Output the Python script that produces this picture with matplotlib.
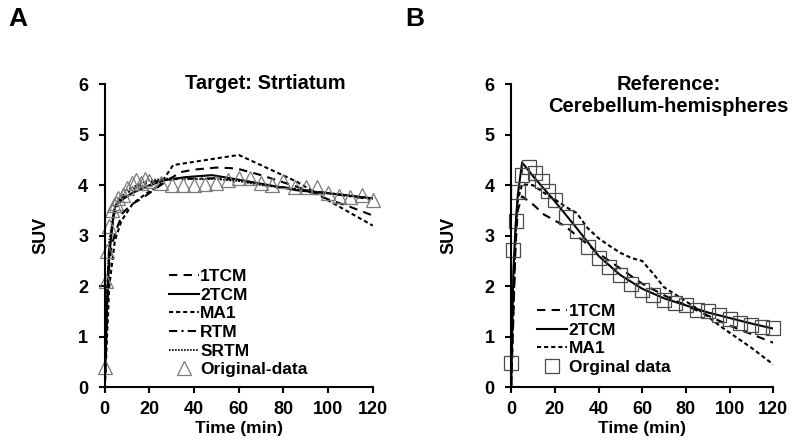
import matplotlib
matplotlib.use("Agg")
import matplotlib.pyplot as plt

plt.rcParams['font.family'] = ['Liberation Sans', 'DejaVu Sans']
plt.rcParams['font.weight'] = 'bold'

# --- Panel A: target (striatum) ---
t_orig_a = [0, 0.5, 1, 2, 3, 4, 5, 6, 8, 10, 12, 14, 16, 18, 20, 25, 30, 35,
            40, 45, 50, 55, 60, 65, 70, 75, 80, 85, 90, 95, 100, 105, 110, 115, 120]
suv_orig_a = [0.4, 2.1, 2.7, 3.2, 3.5, 3.6, 3.65, 3.75, 3.8, 3.95, 4.05, 4.1, 4.05,
              4.12, 4.08, 4.05, 4.0, 4.0, 4.0, 4.02, 4.05, 4.1, 4.14, 4.14, 4.04,
              4.0, 4.08, 3.96, 3.96, 3.96, 3.84, 3.78, 3.76, 3.8, 3.7]

t_1tcm_a = [0, 1, 2, 3, 5, 8, 12, 17, 25, 30, 34, 40, 50, 56, 60, 70, 86, 100, 110, 120]
suv_1tcm_a = [0, 1.5, 2.4, 2.8, 3.1, 3.45, 3.62, 3.75, 4.0, 4.15, 4.26, 4.31, 4.35,
              4.34, 4.32, 4.2, 3.97, 3.72, 3.57, 3.4]

t_2tcm_a = [0, 1, 2, 4, 5, 8, 12, 20, 27, 36, 48, 56, 70, 86, 100, 110, 120]
suv_2tcm_a = [0, 1.6, 2.6, 3.45, 3.62, 3.72, 3.84, 4.0, 4.1, 4.16, 4.2, 4.14, 4.03,
              3.9, 3.84, 3.79, 3.74]

t_ma1_a = [0, 1, 2, 4.5, 7.5, 12.6, 18.7, 24.6, 30.6, 60, 86, 100, 120]
suv_ma1_a = [0, 1.0, 2.0, 2.9, 3.3, 3.64, 3.84, 4.0, 4.4, 4.6, 4.07, 3.7, 3.2]

t_rtm_a = [0, 1, 2, 4, 6, 10, 15, 20, 30, 40, 50, 60, 70, 80, 90, 100, 110, 120]
suv_rtm_a = [0, 1.8, 2.8, 3.4, 3.65, 3.85, 3.98, 4.06, 4.12, 4.13, 4.14, 4.1, 4.02,
             3.96, 3.9, 3.84, 3.78, 3.72]

t_srtm_a = [0, 1, 2, 4, 6, 10, 15, 20, 30, 40, 50, 60, 70, 80, 90, 100, 110, 120]
suv_srtm_a = [0, 2.0, 2.9, 3.5, 3.7, 3.9, 4.02, 4.1, 4.14, 4.12, 4.12, 4.08, 4.0,
              3.95, 3.9, 3.85, 3.8, 3.74]

# --- Panel B: reference (cerebellum hemispheres) ---
t_orig_b = [0, 1, 2, 3, 5, 8, 11, 14, 17, 20, 25, 30, 35, 40, 45, 50, 55, 60,
            65, 70, 75, 80, 85, 90, 95, 100, 105, 110, 115, 120]
suv_orig_b = [0.47, 2.71, 3.3, 3.86, 4.2, 4.36, 4.24, 4.08, 3.88, 3.7, 3.37, 3.1,
              2.78, 2.55, 2.38, 2.22, 2.05, 1.92, 1.82, 1.72, 1.66, 1.62, 1.53,
              1.5, 1.43, 1.35, 1.28, 1.24, 1.2, 1.18]

t_1tcm_b = [0, 1, 2, 3, 5, 10, 15, 20, 25, 30, 40, 50, 60, 70, 80, 90, 100, 110, 120]
suv_1tcm_b = [0, 1.4, 2.8, 3.5, 3.78, 3.62, 3.42, 3.3, 3.18, 3.0, 2.65, 2.35, 2.05,
              1.82, 1.62, 1.42, 1.22, 1.05, 0.88]

t_2tcm_b = [0, 0.5, 1, 2, 3, 5, 10, 20, 30, 40, 50, 60, 70, 80, 90, 100, 110, 120]
suv_2tcm_b = [0, 1.2, 2.3, 3.2, 3.8, 4.45, 4.18, 3.68, 3.15, 2.6, 2.22, 1.95, 1.76,
              1.62, 1.48, 1.37, 1.26, 1.16]

t_ma1_b = [0, 1, 2, 3, 5, 10, 15, 20, 25, 30, 35, 40, 45, 50, 55, 60, 65, 70, 80,
           85, 90, 96, 100, 110, 120]
suv_ma1_b = [0, 1.5, 3.0, 3.7, 4.02, 4.0, 3.85, 3.72, 3.57, 3.45, 3.15, 2.95, 2.8,
             2.66, 2.56, 2.5, 2.25, 1.98, 1.7, 1.56, 1.4, 1.2, 1.08, 0.78, 0.45]

LW = 1.5
DASH_1TCM = (4, 3)
DASH_MA1 = (2, 1.4)
DASH_RTM = (4, 2, 1, 2)
DASH_SRTM = (1, 0.8)
LEG = dict(loc="upper left", frameon=False, handlelength=1.7, handletextpad=0.1,
           labelspacing=0.2, borderpad=0, borderaxespad=0,
           prop={"weight": "bold", "size": 12.5})


def style_axes(ax, title, ty):
    ax.set_xlim(0, 120)
    ax.set_ylim(0, 6)
    ax.set_xticks(range(0, 121, 20))
    ax.set_yticks(range(0, 7))
    for s in ["top", "right"]:
        ax.spines[s].set_visible(False)
    for s in ["left", "bottom"]:
        ax.spines[s].set_linewidth(1.5)
    ax.tick_params(axis="both", direction="out", length=4, width=1.5, labelsize=13)
    ax.tick_params(axis="y", pad=8)
    ax.tick_params(axis="x", pad=6)
    for lab in ax.get_xticklabels() + ax.get_yticklabels():
        lab.set_fontweight("bold")
    ax.set_xlabel("Time (min)", fontsize=12.5, fontweight="bold")
    ax.set_ylabel("SUV", fontsize=13, fontweight="bold")
    ax.xaxis.set_label_coords(0.5, -0.112)
    ax.yaxis.set_label_coords(-0.205, 0.5)
    ax.text(0.6, ty, title, transform=ax.transAxes, ha="center", va="top",
            fontsize=14.5, fontweight="bold", linespacing=1.2)


fig = plt.figure(figsize=(8, 4.46), dpi=100)
ax1 = fig.add_axes([0.131, 0.132, 0.335, 0.679])
ax2 = fig.add_axes([0.639, 0.132, 0.3275, 0.679])

# A
ax1.plot(t_1tcm_a, suv_1tcm_a, color="black", lw=LW, dashes=DASH_1TCM, label="1TCM")
ax1.plot(t_2tcm_a, suv_2tcm_a, color="black", lw=LW, label="2TCM")
ax1.plot(t_ma1_a, suv_ma1_a, color="black", lw=LW, dashes=DASH_MA1, label="MA1")
ax1.plot(t_rtm_a, suv_rtm_a, color="black", lw=LW, dashes=DASH_RTM, label="RTM")
ax1.plot(t_srtm_a, suv_srtm_a, color="black", lw=1.2, dashes=DASH_SRTM, label="SRTM")
ax1.plot(t_orig_a, suv_orig_a, ls="none", marker="^", ms=10, mfc="none",
         mec="#7a7a7a", mew=0.9, clip_on=False, label="Original-data")
style_axes(ax1, "Target: Strtiatum", 1.035)
ax1.legend(bbox_to_anchor=(0.24, 0.39), **LEG)

# B
ax2.plot(t_1tcm_b, suv_1tcm_b, color="black", lw=LW, dashes=DASH_1TCM, label="1TCM")
ax2.plot(t_2tcm_b, suv_2tcm_b, color="black", lw=LW, label="2TCM")
ax2.plot(t_ma1_b, suv_ma1_b, color="black", lw=LW, dashes=DASH_MA1, label="MA1")
ax2.plot(t_orig_b, suv_orig_b, ls="none", marker="s", ms=10, mfc="none",
         mec="#4a4a4a", mew=0.9, clip_on=False, label="Orginal data")
style_axes(ax2, "Reference:\nCerebellum-hemispheres", 1.03)
ax2.legend(bbox_to_anchor=(0.10, 0.275), **LEG)

fig.text(0.01, 0.985, "A", fontsize=19, fontweight="bold", va="top", ha="left")
fig.text(0.506, 0.985, "B", fontsize=19, fontweight="bold", va="top", ha="left")

fig.savefig("out.png", dpi=100)
